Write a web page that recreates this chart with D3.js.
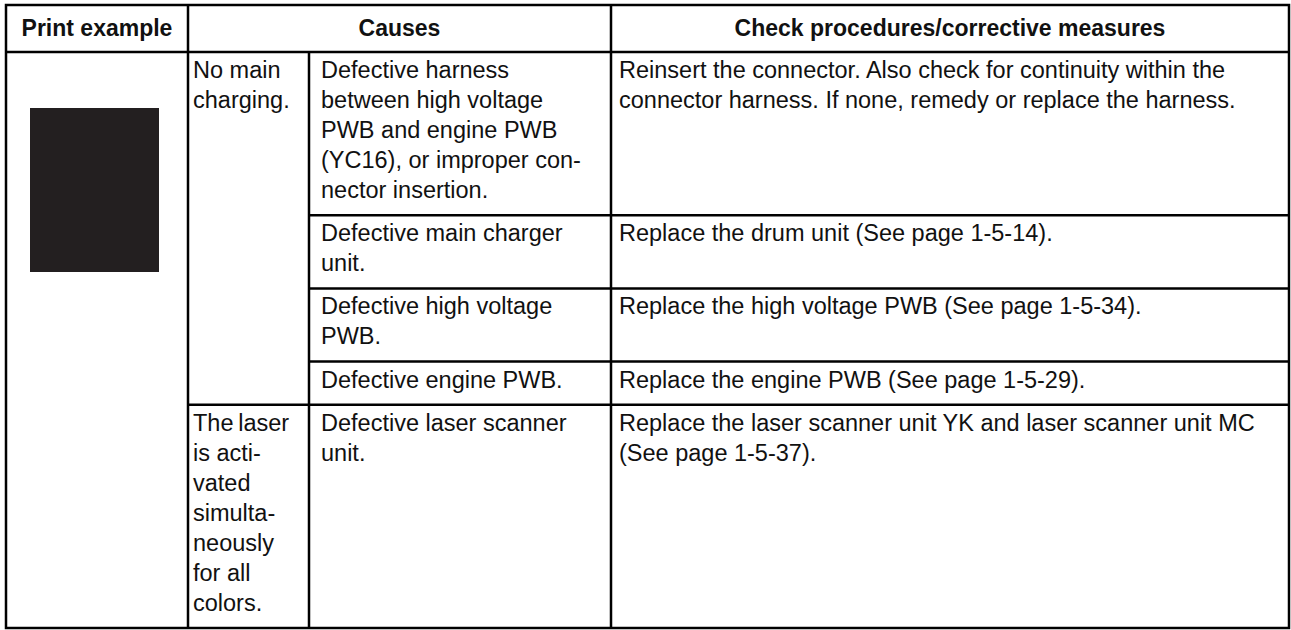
<!DOCTYPE html>
<html>
<head>
<meta charset="utf-8">
<script src="https://cdn.jsdelivr.net/npm/d3@7"></script>
<style>
  html, body { margin: 0; padding: 0; background: #fff; }
  svg { display: block; }
  text { font-family: "Liberation Sans", Arial, Helvetica, sans-serif; fill: #111; }
</style>
</head>
<body>
<svg id="chart" width="1291" height="630"></svg>
<script>
// ---- data ----
const headers = ["Print example", "Causes", "Check procedures/corrective measures"];
const causeGroups = [
  ["No main", "charging."],
  ["The\u2009laser", "is acti-", "vated", "simulta-", "neously", "for all", "colors."]
];
const groupOfRow = [0, 0, 0, 0, 1];
const causeDetails = [
  ["Defective harness", "between high voltage", "PWB and engine PWB", "(YC16), or improper con-", "nector insertion."],
  ["Defective main charger", "unit."],
  ["Defective high voltage", "PWB."],
  ["Defective engine PWB."],
  ["Defective laser scanner", "unit."]
];
const measures = [
  ["Reinsert the connector. Also check for continuity within the", "connector harness. If none, remedy or replace the harness."],
  ["Replace the drum unit (See page 1-5-14)."],
  ["Replace the high voltage PWB (See page 1-5-34)."],
  ["Replace the engine PWB (See page 1-5-29)."],
  ["Replace the laser scanner unit YK and laser scanner unit MC", "(See page 1-5-37)."]
];

// ---- layout ----
const svg = d3.select("#chart");
const tLeft = 6, tRight = 1289, tTop = 5, headerBottom = 52, tBottom = 628;
const colEdges = [tLeft, 188, 309, 611, tRight];
const headSize = 23, fontSize = 23.5, lineH = 30;

const rowLines = causeDetails.map((d, i) => Math.max(d.length, measures[i].length,
  groupOfRow[i] === 1 ? causeGroups[1].length : 0));
const totalLines = d3.sum(rowLines);
const pad = (tBottom - headerBottom - totalLines * lineH) / rowLines.length;
const rowTops = [];
let acc = headerBottom;
rowLines.forEach(n => { rowTops.push(acc); acc += n * lineH + pad; });
rowTops.push(tBottom);
const yRow = i => rowTops[i];

// black print example
svg.append("rect")
  .attr("x", 30).attr("y", 108).attr("width", 129).attr("height", 164)
  .attr("fill", "#231f20");

const headerSpans = [[colEdges[0], colEdges[1]], [colEdges[1], colEdges[3]], [colEdges[3], colEdges[4]]];
svg.selectAll("text.header").data(headers).join("text")
  .attr("class", "header")
  .attr("x", (d, i) => (headerSpans[i][0] + headerSpans[i][1]) / 2)
  .attr("y", 36)
  .attr("text-anchor", "middle")
  .attr("font-weight", "bold")
  .attr("font-size", headSize)
  .text(d => d);

function drawLines(lines, x, yTop) {
  const g = svg.append("g");
  g.selectAll("text").data(lines).join("text")
    .attr("x", x)
    .attr("y", (d, i) => yTop + 26 + i * lineH)
    .attr("font-size", fontSize)
    .text(d => d);
}

drawLines(causeGroups[0], colEdges[1] + 5, yRow(0));
drawLines(causeGroups[1], colEdges[1] + 5, yRow(4));
causeDetails.forEach((d, i) => drawLines(d, colEdges[2] + 12, yRow(i)));
measures.forEach((d, i) => drawLines(d, colEdges[3] + 8, yRow(i)));

const stroke = 2.5;
const gl = svg.append("g").attr("stroke", "#000").attr("stroke-width", stroke).attr("fill", "none");
gl.append("rect").attr("x", tLeft).attr("y", tTop).attr("width", tRight - tLeft).attr("height", tBottom - tTop);
gl.append("line").attr("x1", tLeft).attr("x2", tRight).attr("y1", headerBottom).attr("y2", headerBottom);
gl.append("line").attr("x1", colEdges[1]).attr("x2", colEdges[1]).attr("y1", tTop).attr("y2", tBottom);
gl.append("line").attr("x1", colEdges[2]).attr("x2", colEdges[2]).attr("y1", headerBottom).attr("y2", tBottom);
gl.append("line").attr("x1", colEdges[3]).attr("x2", colEdges[3]).attr("y1", tTop).attr("y2", tBottom);
for (let i = 1; i < rowLines.length; i++) {
  const startX = groupOfRow[i] !== groupOfRow[i - 1] ? colEdges[1] : colEdges[2];
  gl.append("line").attr("x1", startX).attr("x2", tRight).attr("y1", yRow(i)).attr("y2", yRow(i));
}
</script>
</body>
</html>
